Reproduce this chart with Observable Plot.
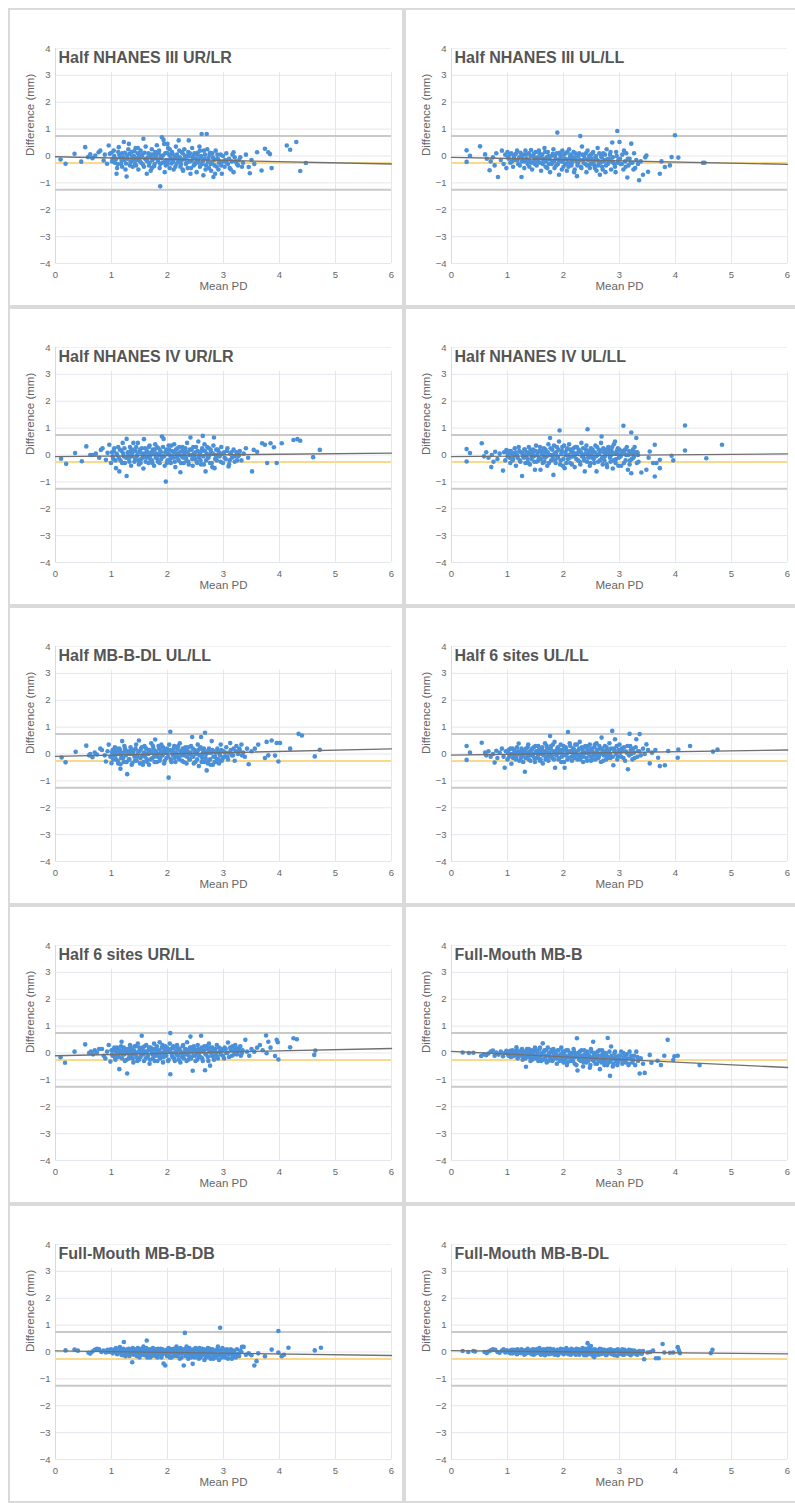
<!DOCTYPE html>
<html><head><meta charset="utf-8">
<script src="https://cdn.jsdelivr.net/npm/d3@7"></script>
<script src="https://cdn.jsdelivr.net/npm/@observablehq/plot@0.6"></script>
<style>
html,body{margin:0;padding:0;background:#fff;overflow:hidden;}
body{padding:8px 0 0 8px;width:795px;height:1503px;box-sizing:border-box;}
#grid{display:grid;grid-template-columns:396px 396px;grid-auto-rows:299px;}
.panel{box-sizing:border-box;border:2px solid #dadada;overflow:hidden;background:#fff;}
svg{display:block}
</style></head><body><div id="grid"></div><script>
const titles = ["Half NHANES III UR/LR","Half NHANES III UL/LL","Half NHANES IV UR/LR","Half NHANES IV UL/LL","Half MB-B-DL UL/LL","Half 6 sites UL/LL","Half 6 sites UR/LL","Full-Mouth MB-B","Full-Mouth MB-B-DB","Full-Mouth MB-B-DL"];
const xTicks = [0,1,2,3,4,5,6];
const yTicks = [-4,-3,-2,-1,0,1,2,3,4];
const upperLoA = 0.74, meanBias = -0.26, lowerLoA = -1.26;
const regStart = [-0.03,-0.05,-0.06,-0.06,-0.09,-0.04,-0.1,0.06,0.04,0.05];
const regEnd = [-0.3,-0.31,0.07,0.04,0.19,0.15,0.17,-0.54,-0.13,-0.07];

const p1 = [[0.09,-0.13],[0.18,-0.29],[0.34,0.08],[0.46,-0.21],[0.53,0.33],[0.58,-0.04],[0.62,0.06],[0.66,-0.08],[0.71,0.02],[0.77,0.14],[0.8,0.2],[0.86,-0.17],[0.88,0.05],[0.92,-0.29],[0.95,0.39],[0.97,0.08],[1.0,0.12],[1.02,-0.1],[1.04,0.2],[1.06,-0.25],[1.09,-0.66],[1.1,-0.45],[1.12,0.15],[1.13,0.33],[1.15,-0.05],[1.17,-0.3],[1.19,0.1],[1.22,0.52],[1.23,-0.15],[1.25,-0.5],[1.27,-0.76],[1.28,0.02],[1.3,0.25],[1.31,0.45],[1.33,-0.35],[1.35,-0.2],[1.36,0.15],[1.38,-0.4],[1.4,0.0],[1.42,-0.3],[1.43,0.3],[1.45,-0.15],[1.47,0.1],[1.48,-0.5],[1.5,-0.05],[1.52,0.2],[1.53,-0.25],[1.55,0.05],[1.57,0.64],[1.58,-0.4],[1.6,-0.1],[1.61,0.35],[1.63,-0.66],[1.64,-0.2],[1.66,0.1],[1.67,-0.35],[1.69,0.0],[1.7,-0.55],[1.72,0.25],[1.73,-0.15],[1.75,0.05],[1.77,-0.3],[1.78,0.15],[1.8,-0.05],[1.81,0.4],[1.83,-0.2],[1.85,0.2],[1.86,-0.45],[1.87,-1.13],[1.88,0.0],[1.9,0.7],[1.91,-0.25],[1.93,0.6],[1.94,0.45],[1.95,-0.6],[1.96,0.1],[1.98,-0.15],[2.0,-0.3],[2.01,0.3],[2.03,0.05],[2.04,-0.45],[2.06,-0.1],[2.08,0.15],[2.1,-0.2],[2.11,-0.5],[2.13,0.0],[2.15,0.35],[2.16,-0.3],[2.18,-0.05],[2.2,0.58],[2.21,0.2],[2.23,-0.4],[2.25,-0.15],[2.27,0.1],[2.28,-0.55],[2.3,0.25],[2.32,-0.1],[2.33,-0.3],[2.35,0.0],[2.37,0.15],[2.38,0.58],[2.39,-0.2],[2.41,-0.66],[2.42,-0.45],[2.44,0.3],[2.45,-0.05],[2.47,-0.35],[2.48,0.1],[2.5,-0.25],[2.52,-0.6],[2.53,0.05],[2.55,-0.15],[2.57,0.35],[2.58,-0.4],[2.6,0.0],[2.61,0.82],[2.62,-0.3],[2.64,-0.72],[2.65,0.2],[2.66,-0.1],[2.68,-0.5],[2.7,0.82],[2.71,0.25],[2.72,-0.2],[2.74,-0.45],[2.75,0.05],[2.77,-0.3],[2.78,-0.55],[2.8,0.1],[2.82,-0.78],[2.83,-0.15],[2.85,-0.66],[2.86,0.2],[2.88,-0.4],[2.9,-0.1],[2.92,-0.25],[2.95,0.05],[2.97,-0.66],[3.0,-0.2],[3.02,-0.4],[3.05,0.1],[3.08,-0.3],[3.1,-0.1],[3.13,-0.5],[3.16,0.05],[3.18,0.14],[3.18,-0.6],[3.22,-0.2],[3.26,-0.35],[3.3,-0.05],[3.35,-0.25],[3.4,0.05],[3.45,-0.41],[3.47,-0.64],[3.5,-0.15],[3.55,-0.3],[3.6,0.14],[3.68,-0.54],[3.74,0.27],[3.8,0.14],[3.83,0.07],[3.86,-0.45],[4.13,0.39],[4.19,0.23],[4.3,0.52],[4.37,-0.56],[4.47,-0.26]];
const p1core = [[1.01,-0.2],[1.05,0.0],[1.08,-0.12],[1.11,-0.3],[1.14,0.05],[1.18,-0.18],[1.21,-0.05],[1.24,0.12],[1.26,-0.28],[1.29,-0.1],[1.32,0.08],[1.34,-0.22],[1.37,-0.02],[1.39,-0.15],[1.41,0.18],[1.44,-0.35],[1.46,-0.08],[1.49,0.05],[1.51,-0.2],[1.54,-0.02],[1.56,-0.32],[1.59,0.12],[1.62,-0.15],[1.65,-0.05],[1.68,-0.25],[1.71,0.05],[1.74,-0.1],[1.76,-0.38],[1.79,0.0],[1.82,-0.12],[1.84,0.1],[1.87,-0.3],[1.89,-0.08],[1.92,0.02],[1.95,-0.22],[1.97,-0.35],[1.99,0.12],[2.02,-0.15],[2.05,0.0],[2.07,-0.28],[2.09,0.08],[2.12,-0.1],[2.14,-0.4],[2.17,0.05],[2.19,-0.2],[2.22,-0.05],[2.24,-0.3],[2.26,0.15],[2.29,-0.12],[2.31,0.02],[2.34,-0.25],[2.36,-0.45],[2.38,-0.02],[2.4,0.1],[2.43,-0.18],[2.46,0.0],[2.49,-0.3],[2.51,-0.1],[2.54,0.12],[2.56,-0.25],[2.59,-0.05],[2.63,-0.2],[2.67,0.05],[2.69,-0.35],[2.73,-0.08],[2.76,0.12],[2.79,-0.25],[2.81,-0.05],[2.84,-0.35],[2.87,-0.12],[2.89,0.05],[2.91,-0.5],[2.94,-0.2],[2.96,-0.35],[2.99,0.0],[3.03,-0.15],[3.06,-0.25],[3.11,-0.45],[3.15,-0.2],[3.2,-0.05],[3.24,-0.3],[3.28,-0.15],[3.33,-0.4],[1.19,-0.4],[1.47,0.3],[1.72,-0.45],[2.04,0.25],[2.27,-0.5],[2.58,0.2],[2.0,0.45]];

const p2 = [[0.27,0.21],[0.27,-0.22],[0.33,0.01],[0.51,0.36],[0.6,0.06],[0.63,-0.1],[0.68,-0.53],[0.7,-0.2],[0.74,-0.05],[0.77,-0.35],[0.8,0.1],[0.83,-0.78],[0.88,-0.15],[0.9,0.2],[0.93,-0.3],[0.96,0.05],[0.98,-0.45],[1.0,0.15],[1.02,-0.1],[1.05,-0.25],[1.07,0.1],[1.1,-0.4],[1.12,0.0],[1.14,-0.15],[1.17,0.2],[1.19,-0.3],[1.21,-0.05],[1.23,0.12],[1.25,-0.78],[1.26,-0.2],[1.28,0.05],[1.3,-0.45],[1.32,0.2],[1.34,-0.1],[1.36,-0.3],[1.38,0.1],[1.4,-0.2],[1.42,0.22],[1.44,-0.5],[1.46,0.0],[1.48,-0.15],[1.5,0.15],[1.52,-0.35],[1.54,-0.05],[1.56,0.2],[1.58,-0.25],[1.6,-0.55],[1.62,0.05],[1.64,-0.15],[1.66,0.3],[1.68,-0.4],[1.7,-0.05],[1.72,0.15],[1.74,-0.3],[1.76,-0.6],[1.78,0.0],[1.8,-0.2],[1.82,0.25],[1.84,-0.45],[1.86,-0.1],[1.88,0.1],[1.89,0.87],[1.9,-0.3],[1.92,-0.7],[1.94,0.05],[1.96,-0.2],[1.98,0.2],[2.0,-0.4],[2.02,-0.1],[2.04,0.1],[2.06,-0.55],[2.08,-0.25],[2.1,0.25],[2.12,0.0],[2.14,-0.35],[2.16,-0.15],[2.18,0.15],[2.2,-0.5],[2.22,-0.05],[2.24,-0.75],[2.26,-0.25],[2.28,0.1],[2.3,0.74],[2.31,-0.4],[2.33,0.35],[2.35,-0.15],[2.37,0.0],[2.39,-0.3],[2.41,-0.6],[2.43,0.2],[2.45,-0.1],[2.47,-0.45],[2.49,0.05],[2.51,-0.25],[2.53,0.15],[2.55,-0.35],[2.57,-0.05],[2.59,-0.55],[2.61,0.3],[2.63,-0.2],[2.65,-0.7],[2.67,0.0],[2.69,-0.4],[2.71,0.1],[2.73,-0.15],[2.75,-0.6],[2.77,0.25],[2.79,-0.3],[2.81,-0.1],[2.83,0.05],[2.85,-0.5],[2.87,0.5],[2.89,-0.25],[2.92,-0.4],[2.94,0.15],[2.96,0.93],[2.98,-0.15],[3.0,0.52],[3.02,-0.3],[3.05,0.05],[3.07,-0.5],[3.1,-0.2],[3.12,0.1],[3.14,-0.8],[3.16,-0.35],[3.18,-0.1],[3.21,0.46],[3.23,-0.25],[3.26,0.1],[3.28,-0.45],[3.3,-0.15],[3.33,-0.3],[3.35,-0.9],[3.38,-0.2],[3.42,-0.7],[3.46,-0.05],[3.48,0.02],[3.51,-0.59],[3.72,-0.66],[3.75,-0.2],[3.81,-0.41],[3.9,-0.35],[3.93,-0.04],[3.99,0.77],[4.05,-0.06],[4.49,-0.25],[4.52,-0.25]];
const p2core = [[1.01,-0.05],[1.04,0.05],[1.08,-0.2],[1.11,-0.08],[1.15,0.08],[1.18,-0.15],[1.22,-0.35],[1.25,0.0],[1.27,-0.1],[1.31,-0.2],[1.33,0.05],[1.37,-0.15],[1.39,-0.4],[1.41,0.0],[1.43,-0.25],[1.47,0.08],[1.49,-0.3],[1.51,-0.08],[1.55,-0.2],[1.57,0.1],[1.59,-0.05],[1.63,-0.3],[1.65,-0.1],[1.67,0.15],[1.69,-0.2],[1.71,-0.45],[1.73,0.0],[1.75,-0.12],[1.79,-0.3],[1.81,0.08],[1.83,-0.2],[1.85,0.0],[1.87,-0.35],[1.91,-0.15],[1.93,0.12],[1.95,-0.05],[1.97,-0.5],[1.99,-0.2],[2.01,0.05],[2.03,-0.3],[2.05,-0.12],[2.07,0.15],[2.09,-0.4],[2.11,-0.1],[2.13,0.05],[2.15,-0.25],[2.17,-0.05],[2.19,-0.6],[2.21,0.1],[2.23,-0.2],[2.25,-0.35],[2.27,0.0],[2.29,-0.15],[2.32,-0.45],[2.34,0.05],[2.36,-0.25],[2.38,-0.1],[2.4,0.1],[2.42,-0.35],[2.44,-0.15],[2.46,0.0],[2.48,-0.3],[2.5,-0.1],[2.52,0.1],[2.54,-0.2],[2.56,-0.45],[2.58,0.0],[2.6,-0.15],[2.62,-0.35],[2.64,0.1],[2.66,-0.25],[2.68,-0.05],[2.7,-0.5],[2.72,-0.2],[2.74,0.05],[2.76,-0.35],[2.78,-0.12],[2.8,-0.25],[2.84,0.15],[2.86,-0.2],[2.88,-0.05],[2.91,-0.3],[2.93,-0.6],[2.95,0.0],[2.97,-0.25],[3.01,-0.1],[3.04,-0.3],[3.08,0.2],[3.11,-0.4],[3.15,-0.1],[3.2,-0.25],[3.25,-0.5]];

const p3 = [[0.1,-0.14],[0.19,-0.33],[0.35,0.07],[0.47,-0.23],[0.55,0.32],[0.62,0.0],[0.66,0.0],[0.72,0.05],[0.78,-0.1],[0.81,0.19],[0.84,0.25],[0.9,-0.18],[0.93,0.08],[0.96,0.38],[0.99,-0.3],[1.01,0.1],[1.03,-0.15],[1.05,0.25],[1.08,-0.49],[1.1,0.0],[1.12,0.3],[1.14,-0.61],[1.16,-0.2],[1.18,0.15],[1.2,0.45],[1.22,-0.05],[1.24,-0.3],[1.27,0.6],[1.27,-0.78],[1.29,0.1],[1.31,-0.15],[1.33,0.3],[1.35,-0.4],[1.37,0.05],[1.39,0.45],[1.41,-0.25],[1.43,0.15],[1.45,-0.05],[1.47,0.45],[1.49,-0.35],[1.51,0.2],[1.53,-0.15],[1.55,0.05],[1.57,-0.5],[1.58,0.59],[1.6,0.25],[1.62,-0.1],[1.64,0.1],[1.66,-0.3],[1.68,0.35],[1.7,0.0],[1.72,-0.2],[1.74,0.2],[1.76,-0.4],[1.78,0.4],[1.8,0.05],[1.82,-0.15],[1.84,0.25],[1.86,-0.3],[1.88,0.1],[1.9,0.69],[1.91,-0.05],[1.93,0.6],[1.95,-0.4],[1.97,-0.99],[1.98,0.2],[2.0,-0.2],[2.02,0.35],[2.04,0.0],[2.06,-0.3],[2.08,0.15],[2.1,-0.1],[2.12,0.4],[2.14,-0.45],[2.16,0.05],[2.18,0.25],[2.2,-0.2],[2.22,0.1],[2.23,-0.64],[2.25,-0.05],[2.27,0.3],[2.29,-0.3],[2.31,0.15],[2.33,-0.1],[2.35,0.45],[2.37,-0.25],[2.39,0.0],[2.41,0.65],[2.43,0.2],[2.45,-0.4],[2.47,0.05],[2.49,-0.15],[2.51,0.3],[2.53,-0.3],[2.55,0.5],[2.57,0.0],[2.59,-0.2],[2.61,0.15],[2.63,0.71],[2.65,-0.35],[2.66,0.4],[2.68,-0.61],[2.7,0.05],[2.72,-0.1],[2.74,0.25],[2.76,-0.3],[2.78,0.1],[2.8,-0.45],[2.82,0.35],[2.83,0.65],[2.84,-0.49],[2.86,0.0],[2.88,-0.2],[2.9,0.2],[2.93,-0.05],[2.96,0.3],[2.99,-0.3],[3.01,0.1],[3.04,-0.15],[3.07,0.25],[3.09,-0.43],[3.1,-0.35],[3.12,0.05],[3.15,-0.1],[3.18,0.2],[3.2,-0.25],[3.23,0.1],[3.26,-0.05],[3.29,0.15],[3.32,-0.2],[3.36,0.05],[3.4,0.25],[3.44,-0.1],[3.51,-0.61],[3.54,0.19],[3.6,0.12],[3.69,0.44],[3.74,0.38],[3.78,-0.3],[3.84,0.44],[3.9,0.29],[3.95,-0.3],[4.04,0.44],[4.25,0.56],[4.32,0.59],[4.37,0.53],[4.6,-0.08],[4.72,0.19]];
const p3core = [[1.02,-0.05],[1.04,0.15],[1.07,-0.2],[1.09,0.05],[1.13,-0.1],[1.15,0.2],[1.19,-0.3],[1.21,0.05],[1.23,0.25],[1.26,-0.1],[1.3,0.0],[1.32,-0.25],[1.34,0.15],[1.36,-0.05],[1.38,0.2],[1.42,-0.15],[1.44,0.3],[1.46,0.0],[1.48,-0.2],[1.5,0.1],[1.52,-0.3],[1.54,0.25],[1.56,-0.1],[1.59,0.05],[1.61,-0.25],[1.63,0.15],[1.65,-0.05],[1.67,0.3],[1.69,-0.15],[1.71,0.1],[1.73,-0.3],[1.75,0.05],[1.77,0.2],[1.79,-0.1],[1.81,0.3],[1.83,-0.25],[1.85,0.0],[1.87,0.15],[1.89,-0.15],[1.92,0.3],[1.94,-0.05],[1.96,0.1],[1.99,-0.3],[2.01,0.05],[2.03,0.2],[2.05,-0.15],[2.07,0.35],[2.09,-0.05],[2.11,0.1],[2.13,-0.25],[2.15,0.2],[2.17,-0.1],[2.19,0.0],[2.21,0.3],[2.24,-0.3],[2.26,0.15],[2.28,-0.1],[2.3,0.05],[2.32,0.25],[2.34,-0.2],[2.36,0.1],[2.38,-0.35],[2.4,0.2],[2.42,0.0],[2.44,-0.15],[2.46,0.3],[2.48,-0.05],[2.5,0.1],[2.52,-0.25],[2.54,0.15],[2.56,-0.1],[2.58,0.05],[2.6,-0.35],[2.62,0.25],[2.64,-0.05],[2.67,0.15],[2.69,-0.2],[2.71,0.3],[2.73,-0.1],[2.75,0.0],[2.77,0.2],[2.79,-0.3],[2.81,0.05],[2.85,-0.15],[2.87,0.2],[2.89,-0.05],[2.92,0.1],[2.95,-0.25],[2.98,0.05],[3.02,-0.1],[3.06,0.15],[3.11,-0.2],[3.14,0.1],[3.19,-0.05],[3.24,-0.2],[3.28,0.0]];

const p4 = [[0.27,0.22],[0.27,-0.24],[0.33,0.07],[0.54,0.44],[0.58,-0.05],[0.62,0.1],[0.66,-0.1],[0.71,-0.45],[0.72,0.0],[0.75,-0.25],[0.78,0.12],[0.82,-0.15],[0.86,0.05],[0.92,-0.58],[0.94,0.1],[0.96,-0.2],[0.98,0.18],[1.0,-0.05],[1.03,0.15],[1.05,-0.3],[1.08,0.05],[1.1,-0.15],[1.13,0.25],[1.15,-0.4],[1.17,0.0],[1.2,0.3],[1.22,-0.2],[1.24,0.1],[1.26,-0.78],[1.28,-0.05],[1.3,0.2],[1.32,-0.3],[1.34,0.05],[1.36,-0.15],[1.38,0.3],[1.4,-0.35],[1.42,0.1],[1.44,-0.05],[1.46,0.2],[1.48,-0.25],[1.49,-0.55],[1.51,0.35],[1.53,0.0],[1.55,-0.2],[1.57,0.15],[1.59,-0.55],[1.61,0.05],[1.63,-0.3],[1.65,0.25],[1.67,-0.1],[1.69,0.1],[1.71,-0.4],[1.73,0.4],[1.75,0.0],[1.76,0.63],[1.78,-0.2],[1.8,0.2],[1.82,-0.74],[1.84,0.05],[1.86,-0.3],[1.88,0.3],[1.9,-0.1],[1.92,0.5],[1.93,0.91],[1.95,-0.2],[1.97,0.15],[1.99,-0.4],[2.01,0.35],[2.02,-0.49],[2.04,0.0],[2.06,0.2],[2.08,-0.15],[2.1,0.4],[2.12,-0.3],[2.14,0.1],[2.16,-0.05],[2.18,0.25],[2.2,-0.45],[2.22,0.05],[2.24,0.3],[2.26,-0.2],[2.28,0.15],[2.3,-0.35],[2.32,0.45],[2.34,0.0],[2.36,-0.1],[2.38,-0.61],[2.4,0.2],[2.42,-0.25],[2.43,0.96],[2.45,0.05],[2.47,-0.4],[2.49,0.25],[2.51,-0.1],[2.53,0.1],[2.55,-0.3],[2.57,0.35],[2.59,-0.61],[2.61,0.0],[2.63,0.2],[2.65,-0.2],[2.67,0.45],[2.68,0.69],[2.7,-0.35],[2.72,0.1],[2.74,-0.05],[2.76,0.2],[2.78,-0.45],[2.8,0.3],[2.82,0.0],[2.84,-0.25],[2.86,0.15],[2.88,-0.5],[2.9,0.4],[2.92,0.5],[2.94,-0.15],[2.96,0.05],[2.98,-0.4],[3.0,0.2],[3.02,-0.05],[3.04,0.1],[3.07,1.09],[3.08,-0.3],[3.1,0.2],[3.12,0.0],[3.15,-0.55],[3.17,0.15],[3.19,-0.2],[3.21,0.84],[3.21,-0.68],[3.23,0.05],[3.25,-0.1],[3.27,0.3],[3.3,0.63],[3.32,0.1],[3.34,-0.25],[3.39,-0.65],[3.48,-0.55],[3.52,-0.1],[3.54,0.13],[3.6,-0.3],[3.63,0.38],[3.63,-0.8],[3.66,-0.3],[3.72,-0.18],[3.72,-0.49],[3.93,-0.03],[3.96,-0.2],[4.17,1.1],[4.17,0.17],[4.55,-0.12],[4.83,0.38]];
const p4core = [[1.01,0.05],[1.04,-0.1],[1.06,0.15],[1.09,-0.2],[1.12,0.0],[1.14,0.1],[1.18,-0.1],[1.21,0.15],[1.23,-0.25],[1.27,0.05],[1.29,-0.1],[1.31,0.2],[1.33,-0.05],[1.35,0.1],[1.37,-0.3],[1.39,0.05],[1.41,0.2],[1.43,-0.15],[1.45,0.05],[1.47,-0.05],[1.5,0.15],[1.52,-0.25],[1.54,0.1],[1.56,-0.1],[1.58,0.3],[1.6,-0.15],[1.62,0.15],[1.64,0.0],[1.66,-0.25],[1.68,0.2],[1.7,-0.05],[1.72,0.1],[1.74,-0.3],[1.77,0.25],[1.79,0.0],[1.81,-0.1],[1.83,0.35],[1.85,-0.2],[1.87,0.1],[1.89,-0.05],[1.91,0.2],[1.94,-0.35],[1.96,0.05],[1.98,0.3],[2.0,-0.15],[2.03,0.1],[2.05,-0.3],[2.07,0.25],[2.09,0.0],[2.11,-0.1],[2.13,0.2],[2.15,-0.35],[2.17,0.1],[2.19,-0.05],[2.21,0.3],[2.23,-0.15],[2.25,0.05],[2.27,0.2],[2.29,-0.25],[2.31,0.1],[2.33,-0.05],[2.35,0.25],[2.37,-0.2],[2.39,0.05],[2.41,0.35],[2.44,-0.1],[2.46,0.15],[2.48,-0.3],[2.5,0.0],[2.52,0.2],[2.54,-0.15],[2.56,0.1],[2.58,-0.05],[2.6,0.3],[2.62,-0.25],[2.64,0.05],[2.66,0.15],[2.69,-0.1],[2.71,0.25],[2.73,-0.2],[2.75,0.05],[2.77,-0.35],[2.79,0.1],[2.81,0.2],[2.83,-0.1],[2.85,0.0],[2.87,0.3],[2.89,-0.2],[2.91,0.05],[2.93,-0.3],[2.95,0.15],[2.97,0.25],[2.99,-0.1],[3.01,0.0],[3.03,-0.4],[3.05,0.15],[3.09,0.05],[3.11,-0.2],[3.13,0.3],[3.16,0.0],[3.18,-0.35],[3.2,0.1],[3.22,-0.15],[3.24,0.2],[3.26,-0.05],[3.28,0.1],[3.31,-0.3],[3.33,0.0]];

const p5 = [[0.11,-0.13],[0.18,-0.31],[0.36,0.08],[0.55,0.31],[0.6,-0.05],[0.62,0.0],[0.66,-0.12],[0.7,0.05],[0.74,-0.02],[0.8,0.2],[0.83,0.15],[0.88,-0.05],[0.9,-0.28],[0.93,0.1],[0.95,0.35],[0.98,-0.1],[1.0,-0.34],[1.02,0.15],[1.04,-0.05],[1.06,0.25],[1.08,-0.2],[1.1,0.05],[1.12,-0.35],[1.14,0.2],[1.16,-0.38],[1.16,-0.55],[1.18,0.0],[1.19,0.48],[1.21,-0.15],[1.23,0.3],[1.25,0.1],[1.27,-0.3],[1.28,-0.75],[1.3,0.05],[1.32,-0.2],[1.34,0.25],[1.36,-0.4],[1.38,0.0],[1.4,0.15],[1.42,-0.25],[1.44,0.35],[1.46,-0.1],[1.48,0.1],[1.49,0.5],[1.51,-0.35],[1.53,0.2],[1.55,-0.05],[1.57,-0.3],[1.59,0.3],[1.61,0.0],[1.63,-0.2],[1.65,0.15],[1.67,-0.4],[1.69,0.05],[1.71,0.4],[1.73,-0.15],[1.75,0.2],[1.77,-0.3],[1.78,0.54],[1.8,0.0],[1.82,-0.1],[1.84,0.3],[1.86,-0.25],[1.88,0.1],[1.9,-0.05],[1.92,0.25],[1.94,-0.35],[1.96,0.15],[1.98,-0.15],[2.0,0.05],[2.02,-0.88],[2.03,0.35],[2.05,0.83],[2.06,-0.2],[2.08,0.1],[2.1,-0.05],[2.12,0.3],[2.14,-0.3],[2.16,0.0],[2.18,0.2],[2.2,-0.15],[2.22,0.4],[2.24,0.05],[2.26,-0.25],[2.28,0.15],[2.3,-0.05],[2.32,0.25],[2.34,-0.35],[2.36,0.1],[2.38,0.0],[2.4,-0.2],[2.42,0.3],[2.44,0.63],[2.46,-0.1],[2.48,0.15],[2.5,-0.3],[2.52,0.05],[2.54,0.35],[2.56,-0.45],[2.58,0.2],[2.6,0.63],[2.62,-0.15],[2.64,0.1],[2.66,-0.3],[2.67,0.79],[2.69,0.0],[2.7,-0.61],[2.72,-0.35],[2.74,0.2],[2.76,-0.2],[2.78,0.05],[2.79,0.48],[2.81,-0.4],[2.83,0.1],[2.85,-0.1],[2.87,-0.3],[2.89,0.2],[2.91,-0.2],[2.93,0.0],[2.95,0.35],[2.97,-0.25],[3.0,0.1],[3.02,-0.1],[3.05,0.25],[3.08,-0.2],[3.1,0.05],[3.12,0.41],[3.15,-0.05],[3.18,0.2],[3.2,-0.25],[3.23,0.3],[3.26,0.0],[3.29,0.15],[3.32,0.35],[3.35,0.05],[3.38,-0.1],[3.42,0.2],[3.45,-0.38],[3.5,0.1],[3.56,0.2],[3.62,0.35],[3.74,-0.15],[3.77,0.45],[3.8,-0.05],[3.86,0.5],[3.92,-0.06],[3.95,0.41],[3.98,-0.28],[4.01,0.41],[4.19,0.2],[4.34,0.75],[4.4,0.69],[4.63,-0.09],[4.72,0.16]];
const p5core = [[1.01,0.05],[1.03,-0.2],[1.05,0.1],[1.07,-0.05],[1.09,0.2],[1.11,-0.25],[1.13,0.0],[1.15,0.15],[1.17,-0.15],[1.2,0.05],[1.22,-0.3],[1.24,0.2],[1.26,-0.05],[1.29,0.1],[1.31,-0.2],[1.33,0.0],[1.35,0.15],[1.37,-0.35],[1.39,0.05],[1.41,-0.1],[1.43,0.2],[1.45,-0.25],[1.47,0.0],[1.5,0.1],[1.52,-0.15],[1.54,0.25],[1.56,-0.4],[1.58,0.05],[1.6,-0.1],[1.62,0.2],[1.64,-0.3],[1.66,0.0],[1.68,0.15],[1.7,-0.2],[1.72,0.05],[1.74,0.3],[1.76,-0.1],[1.79,0.1],[1.81,-0.3],[1.83,0.0],[1.85,0.2],[1.87,-0.15],[1.89,0.35],[1.91,-0.05],[1.93,0.1],[1.95,-0.25],[1.97,0.05],[1.99,0.2],[2.01,-0.1],[2.04,0.15],[2.07,-0.3],[2.09,0.0],[2.11,0.2],[2.13,-0.15],[2.15,0.05],[2.17,-0.05],[2.19,0.3],[2.21,-0.2],[2.23,0.1],[2.25,-0.05],[2.27,0.2],[2.29,-0.3],[2.31,0.05],[2.33,0.15],[2.35,-0.1],[2.37,0.25],[2.39,-0.2],[2.41,0.05],[2.43,-0.05],[2.45,0.2],[2.47,-0.35],[2.49,0.1],[2.51,0.0],[2.53,-0.2],[2.55,0.15],[2.57,-0.05],[2.59,0.25],[2.61,-0.3],[2.63,0.0],[2.65,0.2],[2.68,-0.15],[2.71,0.1],[2.73,-0.25],[2.75,0.05],[2.77,-0.4],[2.8,0.15],[2.82,-0.1],[2.84,-0.3],[2.86,0.05],[2.88,-0.2],[2.9,0.1],[2.92,-0.35],[2.94,-0.05],[2.96,0.15],[2.99,-0.15],[3.03,0.05],[3.07,-0.1],[3.13,0.15],[3.17,-0.05],[3.22,0.1],[3.28,0.2],[3.33,-0.05]];

const p6 = [[0.27,0.3],[0.27,-0.22],[0.33,0.05],[0.54,0.42],[0.6,0.05],[0.62,-0.05],[0.66,0.1],[0.7,-0.1],[0.74,0.0],[0.77,-0.32],[0.8,0.12],[0.82,-0.15],[0.86,0.05],[0.9,0.2],[0.93,-0.1],[0.95,-0.51],[0.97,0.1],[1.0,-0.2],[1.02,0.15],[1.04,0.0],[1.07,-0.36],[1.09,0.2],[1.11,-0.05],[1.13,0.1],[1.15,-0.2],[1.17,0.25],[1.2,0.39],[1.22,0.0],[1.24,-0.15],[1.26,0.15],[1.28,-0.3],[1.3,0.05],[1.31,-0.66],[1.33,0.2],[1.35,-0.1],[1.37,0.35],[1.39,0.0],[1.41,-0.25],[1.43,0.15],[1.45,-0.05],[1.47,0.25],[1.49,-0.3],[1.51,0.1],[1.53,-0.15],[1.55,0.3],[1.57,0.0],[1.59,-0.2],[1.61,0.15],[1.63,-0.35],[1.65,0.05],[1.67,0.4],[1.69,-0.1],[1.71,0.2],[1.73,-0.25],[1.75,0.05],[1.76,0.67],[1.78,0.3],[1.8,-0.15],[1.82,0.1],[1.84,0.45],[1.85,-0.51],[1.87,-0.05],[1.89,0.2],[1.91,-0.2],[1.93,0.05],[1.95,0.35],[1.97,-0.1],[1.99,0.15],[2.01,-0.3],[2.02,-0.51],[2.04,0.25],[2.06,0.0],[2.08,0.82],[2.09,-0.15],[2.11,0.4],[2.13,0.1],[2.15,-0.25],[2.17,0.2],[2.19,-0.05],[2.21,0.35],[2.23,0.0],[2.25,-0.2],[2.27,0.15],[2.29,0.45],[2.31,-0.1],[2.33,0.25],[2.35,-0.3],[2.37,0.05],[2.39,0.3],[2.41,-0.15],[2.43,0.15],[2.45,0.0],[2.47,0.35],[2.49,-0.25],[2.51,0.1],[2.53,-0.05],[2.55,0.25],[2.57,-0.2],[2.59,0.4],[2.61,0.05],[2.63,-0.1],[2.65,0.2],[2.67,-0.3],[2.68,0.61],[2.7,0.1],[2.72,-0.05],[2.74,0.3],[2.76,-0.2],[2.78,0.15],[2.8,0.0],[2.82,0.4],[2.84,-0.15],[2.87,0.86],[2.89,-0.42],[2.9,0.2],[2.92,0.55],[2.94,0.0],[2.96,-0.2],[2.98,0.15],[3.0,0.35],[3.03,-0.1],[3.05,0.1],[3.08,0.25],[3.1,-0.25],[3.13,0.05],[3.15,-0.57],[3.18,0.75],[3.19,0.3],[3.21,0.0],[3.24,0.2],[3.27,-0.15],[3.3,0.55],[3.33,0.1],[3.36,0.74],[3.38,-0.05],[3.42,0.2],[3.45,0.0],[3.48,0.36],[3.51,0.15],[3.54,-0.35],[3.58,0.05],[3.64,0.15],[3.69,-0.14],[3.72,-0.45],[3.81,-0.42],[3.87,0.11],[4.04,-0.14],[4.05,0.17],[4.26,0.3],[4.67,0.09],[4.75,0.17]];
const p6core = [[1.01,0.05],[1.03,-0.1],[1.05,0.2],[1.08,0.0],[1.1,-0.15],[1.12,0.15],[1.14,0.05],[1.16,-0.1],[1.19,0.1],[1.21,-0.25],[1.23,0.05],[1.25,0.2],[1.27,-0.05],[1.29,0.1],[1.32,-0.15],[1.34,0.05],[1.36,0.25],[1.38,-0.2],[1.4,0.1],[1.42,-0.05],[1.44,0.2],[1.46,0.0],[1.48,-0.15],[1.5,0.3],[1.52,0.05],[1.54,-0.1],[1.56,0.15],[1.58,-0.25],[1.6,0.05],[1.62,0.25],[1.64,-0.05],[1.66,0.1],[1.68,-0.2],[1.7,0.3],[1.72,0.05],[1.74,-0.1],[1.77,0.2],[1.79,-0.05],[1.81,0.35],[1.83,-0.2],[1.86,0.1],[1.88,0.0],[1.9,0.25],[1.92,-0.15],[1.94,0.15],[1.96,-0.3],[1.98,0.05],[2.0,0.3],[2.03,-0.05],[2.05,0.15],[2.07,-0.2],[2.1,0.1],[2.12,0.3],[2.14,-0.1],[2.16,0.05],[2.18,0.2],[2.2,-0.15],[2.22,0.1],[2.24,0.35],[2.26,-0.05],[2.28,0.2],[2.3,-0.2],[2.32,0.0],[2.34,0.15],[2.36,-0.1],[2.38,0.25],[2.4,0.05],[2.42,-0.25],[2.44,0.3],[2.46,0.1],[2.48,-0.1],[2.5,0.2],[2.52,-0.2],[2.54,0.05],[2.56,0.35],[2.58,-0.05],[2.6,0.15],[2.62,-0.15],[2.64,0.3],[2.66,0.0],[2.69,0.2],[2.71,-0.25],[2.73,0.1],[2.75,-0.05],[2.77,0.25],[2.79,-0.15],[2.81,0.1],[2.83,0.0],[2.85,0.2],[2.88,-0.1],[2.91,0.1],[2.95,0.3],[2.97,-0.1],[3.01,0.05],[3.04,0.2],[3.07,-0.15],[3.11,0.1],[3.14,0.3],[3.17,-0.05],[3.2,0.15],[3.23,-0.2],[3.26,0.05],[3.29,0.25],[3.32,-0.1],[3.35,0.1]];

const p7 = [[0.09,-0.16],[0.17,-0.36],[0.34,0.05],[0.53,0.32],[0.6,0.0],[0.63,0.05],[0.67,-0.05],[0.7,0.1],[0.74,0.02],[0.78,0.15],[0.83,0.15],[0.86,-0.1],[0.89,-0.2],[0.92,0.05],[0.95,0.3],[0.98,-0.32],[1.0,0.1],[1.02,-0.1],[1.05,0.2],[1.07,-0.25],[1.09,0.05],[1.11,0.15],[1.13,-0.15],[1.14,-0.6],[1.16,0.1],[1.18,0.42],[1.2,-0.05],[1.22,0.2],[1.24,-0.3],[1.26,0.0],[1.28,-0.76],[1.29,0.15],[1.31,-0.2],[1.33,0.3],[1.35,-0.1],[1.37,0.1],[1.39,-0.35],[1.41,0.25],[1.43,0.0],[1.45,-0.15],[1.47,0.35],[1.49,-0.25],[1.51,0.1],[1.53,-0.05],[1.54,0.64],[1.56,0.2],[1.58,-0.3],[1.6,0.05],[1.62,0.3],[1.64,-0.15],[1.66,0.1],[1.68,-0.4],[1.7,0.2],[1.72,0.0],[1.74,-0.2],[1.76,0.35],[1.78,-0.1],[1.8,0.15],[1.82,-0.3],[1.84,0.05],[1.86,0.4],[1.88,-0.15],[1.9,0.2],[1.92,-0.35],[1.94,0.0],[1.96,0.25],[1.98,-0.1],[2.0,0.1],[2.02,-0.25],[2.04,0.35],[2.05,0.74],[2.05,-0.79],[2.07,0.0],[2.09,-0.15],[2.11,0.2],[2.13,-0.3],[2.15,0.05],[2.17,0.3],[2.19,-0.1],[2.21,0.15],[2.23,-0.35],[2.25,0.0],[2.27,0.25],[2.29,-0.2],[2.31,0.1],[2.33,-0.05],[2.35,0.4],[2.37,-0.25],[2.39,0.05],[2.41,0.61],[2.43,0.2],[2.45,-0.66],[2.46,-0.1],[2.48,0.15],[2.5,-0.3],[2.52,0.0],[2.54,0.3],[2.56,-0.15],[2.58,0.1],[2.6,0.64],[2.62,-0.2],[2.64,0.05],[2.66,0.25],[2.67,-0.64],[2.69,-0.05],[2.71,0.15],[2.73,-0.3],[2.74,0.35],[2.76,-0.47],[2.78,0.0],[2.8,0.2],[2.82,-0.15],[2.84,0.1],[2.86,-0.05],[2.88,0.3],[2.9,-0.2],[2.93,0.05],[2.96,0.15],[2.99,-0.1],[3.02,0.2],[3.05,0.0],[3.08,0.39],[3.1,-0.15],[3.13,0.1],[3.16,0.25],[3.19,-0.05],[3.22,0.15],[3.25,0.0],[3.28,0.2],[3.31,-0.1],[3.34,0.1],[3.39,0.49],[3.42,0.05],[3.46,-0.1],[3.5,0.15],[3.55,0.05],[3.6,0.2],[3.65,0.3],[3.7,0.1],[3.76,0.65],[3.77,-0.01],[3.8,0.42],[3.84,0.2],[3.92,-0.11],[3.95,0.49],[3.97,0.4],[3.98,-0.24],[4.19,0.21],[4.25,0.55],[4.31,0.51],[4.62,-0.07],[4.64,0.09]];
const p7core = [[1.01,-0.05],[1.03,0.1],[1.06,-0.15],[1.08,0.05],[1.1,0.2],[1.12,-0.1],[1.15,0.0],[1.17,0.25],[1.19,-0.2],[1.21,0.1],[1.23,-0.05],[1.25,0.15],[1.27,-0.25],[1.3,0.05],[1.32,-0.1],[1.34,0.2],[1.36,0.0],[1.38,-0.2],[1.4,0.1],[1.42,-0.05],[1.44,0.25],[1.46,-0.3],[1.48,0.05],[1.5,0.2],[1.52,-0.15],[1.55,0.1],[1.57,-0.05],[1.59,0.25],[1.61,-0.2],[1.63,0.05],[1.65,-0.1],[1.67,0.2],[1.69,-0.25],[1.71,0.1],[1.73,-0.05],[1.75,0.15],[1.77,-0.3],[1.79,0.05],[1.81,0.25],[1.83,-0.1],[1.85,0.1],[1.87,-0.2],[1.89,0.0],[1.91,0.3],[1.93,-0.15],[1.95,0.1],[1.97,-0.05],[1.99,0.2],[2.01,-0.3],[2.03,0.05],[2.06,0.15],[2.08,-0.1],[2.1,0.25],[2.12,-0.2],[2.14,0.05],[2.16,-0.05],[2.18,0.2],[2.2,-0.25],[2.22,0.1],[2.24,0.0],[2.26,-0.15],[2.28,0.3],[2.3,-0.05],[2.32,0.15],[2.34,-0.3],[2.36,0.1],[2.38,-0.1],[2.4,0.2],[2.42,-0.2],[2.44,0.05],[2.47,0.25],[2.49,-0.1],[2.51,0.1],[2.53,-0.25],[2.55,0.15],[2.57,0.0],[2.59,-0.15],[2.61,0.2],[2.63,-0.3],[2.65,0.1],[2.68,-0.05],[2.7,0.25],[2.72,-0.15],[2.75,0.05],[2.77,0.2],[2.79,-0.1],[2.81,0.05],[2.83,-0.25],[2.85,0.15],[2.87,0.0],[2.89,-0.15],[2.92,0.2],[2.95,-0.05],[2.98,0.1],[3.01,-0.2],[3.04,0.15],[3.07,0.0],[3.12,0.2],[3.15,-0.1],[3.18,0.1],[3.21,0.3],[3.24,-0.05],[3.27,0.1],[3.3,0.25],[3.33,0.0]];

const p8 = [[0.2,0.02],[0.31,0.0],[0.39,0.01],[0.53,-0.11],[0.58,-0.05],[0.62,-0.08],[0.66,-0.02],[0.7,0.05],[0.74,0.09],[0.77,-0.1],[0.8,0.02],[0.84,-0.06],[0.88,0.05],[0.92,-0.12],[0.95,0.0],[0.98,0.08],[1.01,-0.05],[1.04,0.0],[1.06,-0.15],[1.09,0.1],[1.12,-0.08],[1.14,0.05],[1.16,0.21],[1.18,-0.2],[1.2,0.0],[1.22,-0.1],[1.25,0.12],[1.27,-0.25],[1.29,0.05],[1.31,-0.08],[1.33,-0.51],[1.35,0.15],[1.37,-0.15],[1.39,0.0],[1.41,-0.3],[1.43,0.1],[1.45,-0.05],[1.47,-0.2],[1.49,0.2],[1.51,-0.1],[1.53,0.05],[1.55,-0.3],[1.57,0.15],[1.59,-0.15],[1.61,0.0],[1.63,0.36],[1.64,-0.25],[1.66,0.1],[1.68,-0.1],[1.7,-0.35],[1.72,0.2],[1.74,-0.05],[1.76,-0.2],[1.78,0.05],[1.8,-0.3],[1.82,0.15],[1.84,-0.15],[1.86,0.0],[1.88,-0.4],[1.9,0.1],[1.92,-0.1],[1.94,-0.25],[1.96,0.2],[1.98,-0.05],[2.0,-0.35],[2.02,0.05],[2.04,-0.2],[2.06,-0.45],[2.08,0.1],[2.1,-0.1],[2.12,-0.3],[2.14,0.0],[2.16,-0.2],[2.18,0.15],[2.2,-0.4],[2.22,-0.05],[2.24,0.55],[2.25,-0.65],[2.27,-0.15],[2.29,0.05],[2.31,-0.3],[2.33,-0.1],[2.35,-0.5],[2.37,0.1],[2.39,-0.2],[2.41,-0.35],[2.43,0.0],[2.45,-0.15],[2.47,-0.55],[2.49,0.15],[2.51,-0.25],[2.53,0.42],[2.55,-0.05],[2.57,-0.4],[2.59,-0.15],[2.61,0.05],[2.63,-0.3],[2.65,-0.6],[2.67,-0.1],[2.69,0.1],[2.71,-0.25],[2.73,-0.45],[2.75,0.0],[2.77,-0.2],[2.79,0.56],[2.81,-0.35],[2.83,-0.85],[2.85,0.24],[2.86,-0.1],[2.88,-0.5],[2.9,-0.2],[2.92,0.05],[2.94,-0.3],[2.96,-0.45],[2.98,-0.1],[3.0,-0.25],[3.03,0.05],[3.05,-0.4],[3.08,-0.15],[3.1,-0.3],[3.13,-0.05],[3.16,-0.45],[3.18,0.05],[3.2,-0.2],[3.23,-0.35],[3.26,-0.1],[3.3,0.05],[3.33,-0.3],[3.36,-0.76],[3.38,-0.2],[3.42,-0.4],[3.45,-0.74],[3.54,-0.07],[3.57,-0.36],[3.68,-0.29],[3.74,-0.45],[3.8,-0.1],[3.86,0.49],[3.96,-0.26],[3.98,-0.12],[4.04,-0.1],[4.43,-0.45]];
const p8core = [[1.0,0.02],[1.02,-0.1],[1.05,0.08],[1.07,-0.03],[1.1,-0.12],[1.13,0.05],[1.15,-0.08],[1.17,0.1],[1.19,-0.15],[1.21,0.03],[1.23,-0.05],[1.26,0.15],[1.28,-0.12],[1.3,0.0],[1.32,-0.2],[1.34,0.08],[1.36,-0.05],[1.38,0.15],[1.4,-0.15],[1.42,0.02],[1.44,-0.25],[1.46,0.05],[1.48,-0.1],[1.5,0.1],[1.52,-0.2],[1.54,0.0],[1.56,-0.12],[1.58,0.2],[1.6,-0.3],[1.62,-0.05],[1.65,0.05],[1.67,-0.2],[1.69,0.1],[1.71,-0.1],[1.73,-0.3],[1.75,0.0],[1.77,-0.15],[1.79,0.12],[1.81,-0.25],[1.83,-0.05],[1.85,0.05],[1.87,-0.2],[1.89,-0.1],[1.91,0.1],[1.93,-0.3],[1.95,-0.05],[1.97,-0.15],[1.99,0.05],[2.01,-0.25],[2.03,-0.1],[2.05,0.1],[2.07,-0.35],[2.09,-0.15],[2.11,0.0],[2.13,-0.2],[2.15,-0.05],[2.17,-0.3],[2.19,0.05],[2.21,-0.15],[2.23,-0.45],[2.26,0.0],[2.28,-0.25],[2.3,-0.1],[2.32,0.1],[2.34,-0.2],[2.36,-0.35],[2.38,-0.05],[2.4,-0.15],[2.42,0.05],[2.44,-0.3],[2.46,-0.1],[2.48,-0.45],[2.5,0.05],[2.52,-0.15],[2.54,-0.3],[2.56,0.0],[2.58,-0.2],[2.6,-0.4],[2.62,-0.1],[2.64,0.1],[2.66,-0.25],[2.68,-0.35],[2.7,0.0],[2.72,-0.15],[2.74,-0.3],[2.76,-0.05],[2.78,-0.45],[2.8,-0.15],[2.82,0.05],[2.84,-0.3],[2.87,-0.2],[2.89,-0.4],[2.91,0.0],[2.93,-0.15],[2.95,-0.25],[2.97,-0.35],[3.01,-0.1],[3.04,-0.25],[3.07,0.0],[3.11,-0.35],[3.14,-0.2],[3.17,-0.4],[3.21,-0.1],[3.25,-0.25],[3.28,-0.45],[3.32,-0.15]];

const p9 = [[0.18,0.06],[0.34,0.09],[0.4,0.05],[0.59,-0.03],[0.62,-0.06],[0.66,0.02],[0.7,0.08],[0.74,0.12],[0.78,0.1],[0.82,0.0],[0.86,0.05],[0.9,-0.02],[0.93,0.08],[0.96,0.0],[0.99,0.1],[1.02,-0.05],[1.05,0.05],[1.08,0.15],[1.1,-0.08],[1.13,0.02],[1.15,0.18],[1.18,-0.1],[1.2,0.08],[1.22,0.37],[1.25,-0.16],[1.27,0.05],[1.29,-0.05],[1.31,0.12],[1.33,-0.1],[1.35,0.02],[1.37,-0.38],[1.39,0.1],[1.41,-0.06],[1.43,0.05],[1.45,-0.15],[1.47,0.15],[1.49,0.0],[1.51,-0.1],[1.53,0.08],[1.55,-0.05],[1.57,0.2],[1.59,-0.12],[1.61,0.02],[1.63,0.43],[1.64,-0.2],[1.66,0.1],[1.68,-0.05],[1.7,0.05],[1.72,-0.15],[1.74,0.15],[1.76,0.0],[1.78,-0.08],[1.8,0.1],[1.82,-0.2],[1.84,0.05],[1.86,-0.05],[1.88,0.12],[1.9,-0.12],[1.92,0.02],[1.93,-0.43],[1.96,-0.5],[1.98,0.08],[2.0,-0.1],[2.02,0.15],[2.04,-0.2],[2.06,0.0],[2.08,0.1],[2.1,-0.05],[2.12,-0.15],[2.14,0.05],[2.16,0.2],[2.18,-0.1],[2.2,0.0],[2.22,-0.25],[2.24,0.12],[2.26,-0.05],[2.28,0.05],[2.29,-0.5],[2.31,0.71],[2.32,-0.15],[2.34,0.2],[2.36,0.0],[2.38,-0.1],[2.4,0.1],[2.42,-0.2],[2.45,-0.44],[2.46,0.05],[2.48,-0.05],[2.5,0.15],[2.52,-0.15],[2.54,0.0],[2.56,-0.25],[2.58,0.08],[2.6,-0.1],[2.62,0.12],[2.64,-0.05],[2.66,-0.3],[2.68,0.05],[2.7,-0.15],[2.72,0.15],[2.74,-0.05],[2.76,-0.2],[2.78,0.0],[2.8,0.1],[2.82,-0.25],[2.84,-0.08],[2.86,0.05],[2.88,-0.15],[2.9,0.2],[2.92,-0.3],[2.94,0.9],[2.95,0.0],[2.97,-0.2],[2.99,0.1],[3.02,-0.1],[3.05,0.05],[3.08,-0.25],[3.1,-0.05],[3.13,0.1],[3.16,-0.15],[3.19,0.0],[3.22,-0.2],[3.26,-0.08],[3.3,0.05],[3.33,0.19],[3.36,0.19],[3.4,-0.1],[3.45,-0.05],[3.5,-0.12],[3.55,-0.5],[3.59,-0.34],[3.62,-0.05],[3.74,-0.16],[3.86,0.09],[3.98,0.78],[3.98,-0.02],[4.04,-0.16],[4.08,-0.1],[4.16,0.16],[4.63,0.06],[4.74,0.16]];
const p9core = [[1.0,0.05],[1.03,-0.02],[1.06,0.1],[1.09,0.0],[1.12,-0.05],[1.14,0.08],[1.17,0.02],[1.19,-0.12],[1.21,0.12],[1.24,0.0],[1.26,-0.08],[1.28,0.1],[1.3,0.0],[1.32,-0.15],[1.34,0.08],[1.36,-0.05],[1.38,0.15],[1.4,-0.1],[1.42,0.02],[1.44,0.1],[1.46,-0.08],[1.48,0.05],[1.5,-0.2],[1.52,0.0],[1.54,0.12],[1.56,-0.1],[1.58,0.05],[1.6,-0.05],[1.62,0.15],[1.65,-0.12],[1.67,0.05],[1.69,-0.2],[1.71,0.1],[1.73,0.0],[1.75,-0.1],[1.77,0.08],[1.79,-0.15],[1.81,0.02],[1.83,0.12],[1.85,-0.08],[1.87,0.0],[1.89,-0.2],[1.91,0.1],[1.94,-0.05],[1.97,0.05],[1.99,-0.15],[2.01,0.08],[2.03,-0.05],[2.05,0.1],[2.07,-0.2],[2.09,0.0],[2.11,0.12],[2.13,-0.1],[2.15,0.02],[2.17,-0.15],[2.19,0.08],[2.21,-0.05],[2.23,0.15],[2.25,-0.2],[2.27,0.0],[2.3,0.1],[2.33,-0.1],[2.35,0.05],[2.37,-0.25],[2.39,0.15],[2.41,-0.05],[2.43,0.05],[2.44,-0.15],[2.47,0.1],[2.49,-0.2],[2.51,0.0],[2.53,0.08],[2.55,-0.1],[2.57,0.15],[2.59,-0.2],[2.61,0.0],[2.63,-0.12],[2.65,0.1],[2.67,-0.05],[2.69,-0.2],[2.71,0.05],[2.73,-0.1],[2.75,0.12],[2.77,-0.25],[2.79,-0.05],[2.81,0.08],[2.83,-0.15],[2.85,0.0],[2.87,-0.2],[2.89,0.1],[2.91,-0.1],[2.93,0.05],[2.96,-0.15],[2.98,0.15],[3.01,-0.05],[3.03,-0.2],[3.06,0.1],[3.09,-0.1],[3.12,0.0],[3.15,-0.25],[3.18,0.05],[3.21,-0.1],[3.24,0.1],[3.28,-0.15],[3.32,0.0]];

const p10 = [[0.2,0.04],[0.3,0.0],[0.39,0.04],[0.42,0.02],[0.59,0.0],[0.63,-0.04],[0.66,0.02],[0.7,0.06],[0.74,0.1],[0.78,0.08],[0.82,0.0],[0.86,-0.03],[0.9,0.05],[0.93,0.1],[0.96,-0.02],[0.99,0.06],[1.02,0.02],[1.05,-0.05],[1.08,0.08],[1.1,0.0],[1.13,0.04],[1.16,-0.06],[1.18,0.1],[1.21,0.02],[1.24,-0.04],[1.27,0.06],[1.3,-0.1],[1.32,0.0],[1.35,0.08],[1.38,-0.03],[1.4,0.05],[1.43,-0.08],[1.46,0.1],[1.48,0.0],[1.51,-0.05],[1.54,0.06],[1.57,0.15],[1.59,-0.08],[1.62,0.02],[1.65,0.1],[1.67,-0.12],[1.7,0.04],[1.73,-0.02],[1.76,0.12],[1.78,-0.06],[1.81,0.05],[1.84,-0.1],[1.86,0.0],[1.89,0.08],[1.92,-0.05],[1.95,0.12],[1.97,0.0],[2.0,-0.08],[2.02,0.06],[2.05,0.15],[2.07,-0.03],[2.1,0.05],[2.13,-0.1],[2.15,0.1],[2.18,0.0],[2.2,-0.06],[2.23,0.12],[2.26,0.02],[2.28,-0.1],[2.31,0.06],[2.34,0.15],[2.36,-0.04],[2.39,0.08],[2.41,-0.12],[2.43,0.33],[2.44,0.02],[2.46,0.18],[2.48,-0.08],[2.5,0.05],[2.53,-0.15],[2.55,-0.19],[2.56,0.1],[2.59,0.0],[2.62,-0.1],[2.65,0.12],[2.67,0.02],[2.7,-0.06],[2.73,0.08],[2.76,-0.12],[2.78,0.04],[2.81,-0.04],[2.84,0.1],[2.87,-0.08],[2.9,0.0],[2.93,0.06],[2.96,-0.14],[2.99,0.04],[3.02,-0.05],[3.05,0.1],[3.08,-0.1],[3.11,0.02],[3.14,-0.06],[3.17,0.08],[3.2,-0.12],[3.23,0.0],[3.26,0.05],[3.3,-0.08],[3.34,0.02],[3.38,-0.05],[3.42,0.04],[3.44,-0.27],[3.5,-0.02],[3.55,0.0],[3.6,0.05],[3.65,-0.23],[3.7,-0.23],[3.77,0.3],[3.8,-0.02],[3.9,-0.03],[3.96,-0.02],[4.04,0.18],[4.06,0.06],[4.08,-0.04],[4.63,-0.04],[4.66,0.08]];
const p10core = [[1.0,0.03],[1.03,-0.02],[1.06,0.06],[1.09,-0.05],[1.12,0.08],[1.15,0.0],[1.17,-0.08],[1.2,0.05],[1.22,-0.03],[1.25,0.1],[1.28,0.0],[1.31,0.05],[1.33,-0.06],[1.36,0.12],[1.39,0.02],[1.42,-0.04],[1.44,0.08],[1.47,-0.1],[1.49,0.04],[1.52,0.1],[1.55,-0.02],[1.58,0.05],[1.6,-0.1],[1.63,0.08],[1.66,0.0],[1.68,-0.05],[1.71,0.12],[1.74,-0.08],[1.77,0.03],[1.8,-0.03],[1.82,0.1],[1.85,-0.05],[1.88,0.04],[1.9,-0.12],[1.93,0.06],[1.96,-0.02],[1.98,0.1],[2.01,0.0],[2.04,-0.05],[2.06,0.1],[2.09,-0.08],[2.11,0.02],[2.14,0.12],[2.17,-0.04],[2.19,0.06],[2.22,-0.1],[2.24,0.04],[2.27,0.1],[2.3,-0.05],[2.32,0.02],[2.35,0.08],[2.37,-0.12],[2.4,0.12],[2.42,0.0],[2.45,-0.06],[2.47,0.1],[2.49,0.22],[2.51,-0.04],[2.54,0.08],[2.57,-0.1],[2.6,0.06],[2.63,0.0],[2.66,-0.08],[2.68,0.1],[2.71,-0.02],[2.74,0.05],[2.77,-0.1],[2.8,0.08],[2.82,0.0],[2.85,-0.06],[2.88,0.06],[2.91,-0.12],[2.94,0.02],[2.97,0.1],[3.0,-0.06],[3.03,0.04],[3.06,-0.1],[3.09,0.08],[3.12,-0.03],[3.15,0.02],[3.18,-0.08],[3.21,0.06],[3.25,-0.05],[3.28,0.02],[3.32,-0.1],[3.36,0.04],[3.4,-0.06]];

const panels = [p1.concat(p1core), p2.concat(p2core), p3.concat(p3core), p4.concat(p4core), p5.concat(p5core), p6.concat(p6core), p7.concat(p7core), p8.concat(p8core), p9.concat(p9core), p10.concat(p10core)];
const grid = document.getElementById("grid");

panels.forEach((pts, i) => {
  const chart = Plot.plot({
    width: 392, height: 295,
    marginLeft: 45, marginRight: 11, marginTop: 38, marginBottom: 42,
    x: {domain: [0, 6]},
    y: {domain: [-4, 4]},
    style: {fontFamily: "'Liberation Sans', Arial, Helvetica, sans-serif", background: "white", color: "#666", overflow: "visible"},
    marks: [
      Plot.ruleY(yTicks.filter(d => d < 4), {x1: 0, x2: 6, stroke: "#e4e7ee", strokeWidth: 1}),
      Plot.ruleY([4], {x1: 0, x2: 6, stroke: "#eef0f3", strokeWidth: 1}),
      Plot.ruleX(xTicks.filter(d => d > 0), {y1: -4, y2: 3.12, stroke: "#e4e7ee", strokeWidth: 1}),
      Plot.ruleX([0], {y1: -4, y2: 4, stroke: "#d6dae3", strokeWidth: 1}),
      Plot.ruleY([upperLoA, lowerLoA], {x1: 0, x2: 6, stroke: "#c9c9c9", strokeWidth: 2}),
      Plot.ruleY([meanBias], {x1: 0, x2: 6, stroke: "#fbd98c", strokeWidth: 2}),
      Plot.dot(pts, {x: d => d[0], y: d => d[1], r: 2.3, fill: "#4a90d9", stroke: "none"}),
      Plot.line([[0, regStart[i]], [6, regEnd[i]]], {x: d => d[0], y: d => d[1], stroke: "#707070", strokeWidth: 1.4}),
      Plot.axisX(xTicks, {tickSize: 0, tickPadding: 8, label: null, fontSize: 9.5, fill: "#666"}),
      Plot.axisY(yTicks, {tickSize: 0, tickPadding: 5, label: null, fontSize: 9.5, fill: "#666"}),
      Plot.text([titles[i]], {frameAnchor: "top-left", dx: 3, dy: 3, lineAnchor: "top", textAnchor: "start", fontWeight: "bold", fontSize: 16, fill: "#555"}),
      Plot.text(["Mean PD"], {frameAnchor: "bottom", dy: 26, fontSize: 11.5, fill: "#666"}),
      Plot.text(["Difference (mm)"], {frameAnchor: "left", dx: -25, rotate: -90, fontSize: 11.5, fill: "#666"})
    ]
  });
  const div = document.createElement("div");
  div.className = "panel";
  div.appendChild(chart);
  grid.appendChild(div);
});
</script></body></html>
